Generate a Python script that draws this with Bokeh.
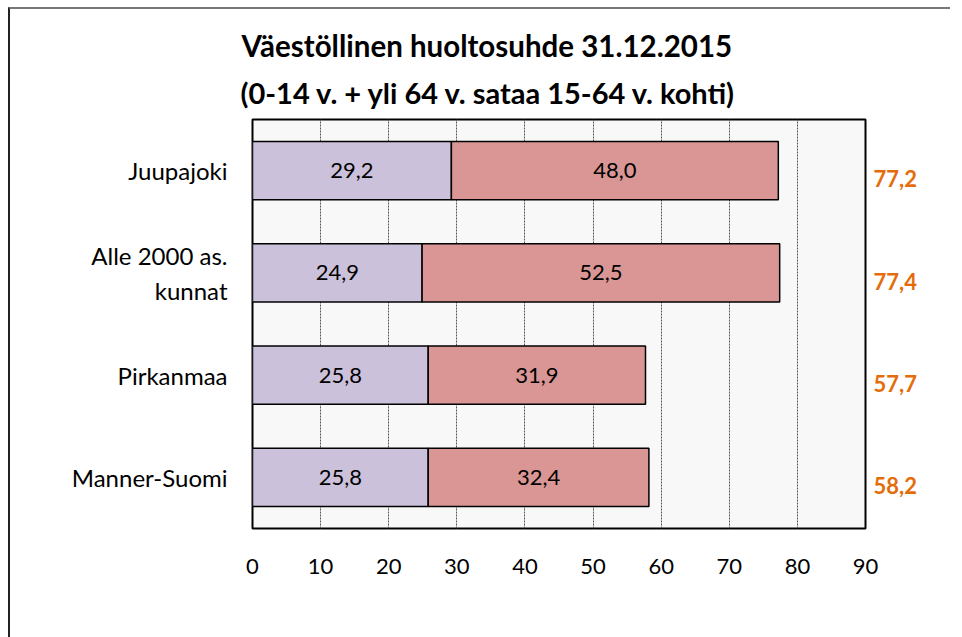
from bokeh.plotting import figure
from bokeh.models import (ColumnDataSource, LabelSet, Legend, LegendItem, Title,
                          FixedTicker, LinearAxis, Range1d)
from bokeh.embed import file_html
from bokeh.resources import INLINE
from bokeh.core.properties import value

# ---- data ----
categories = ["Juupajoki", "Alle 2000 as.\nkunnat", "Pirkanmaa", "Manner-Suomi"]
children = [29.2, 24.9, 25.8, 25.8]
elderly = [48.0, 52.5, 31.9, 32.4]
totals = [77.2, 77.4, 57.7, 58.2]
series_names = ["0-14 v. / (15-64 v./100)", "Yli 64 v. / (15-64 v./100)"]
x_ticks = [0, 10, 20, 30, 40, 50, 60, 70, 80, 90]
title_lines = ["Väestöllinen huoltosuhde 31.12.2015",
               "(0-14 v. + yli 64 v. sataa 15-64 v. kohti)"]


def fi(v):
    return f"{v:.1f}".replace(".", ",")


FONT = "Lato"
C_CHILD = "#ccc1da"
C_OLD = "#d99694"
C_TOTAL = "#e46c0a"
X_MAX = x_ticks[-1]
N = len(categories)
ypos = [N - i - 0.5 for i in range(N)]   # first category on top

src = ColumnDataSource(dict(
    y=ypos,
    children=children,
    elderly=elderly,
    end=[c + e for c, e in zip(children, elderly)],
    mid1=[c / 2 for c in children],
    mid2=[c + e / 2 for c, e in zip(children, elderly)],
    lab1=[fi(v) for v in children],
    lab2=[fi(v) for v in elderly],
))

p = figure(
    frame_width=613, frame_height=409,
    y_range=Range1d(0, N), x_range=Range1d(0, X_MAX),
    output_backend="svg", toolbar_location=None,
    min_border_left=242, min_border_top=110, min_border_right=85, min_border_bottom=95,
)
p.styles = {"border-top": "2px solid #777", "border-left": "2px solid #222",
            "margin-left": "8px", "margin-top": "7px"}
p.background_fill_color = "#f8f8f8"
p.border_fill_color = "white"
p.outline_line_color = "black"
p.outline_line_width = 2

r1 = p.hbar(y="y", left=0, right="children", height=0.57, source=src,
            fill_color=C_CHILD, line_color="black", line_width=1.5)
r2 = p.hbar(y="y", left="children", right="end", height=0.57, source=src,
            fill_color=C_OLD, line_color="black", line_width=1.5)

for xcol, tcol in (("mid1", "lab1"), ("mid2", "lab2")):
    p.add_layout(LabelSet(x=xcol, y="y", text=tcol, source=src,
                          text_align="center", text_baseline="middle",
                          text_font=value(FONT), text_font_size="22px",
                          text_color="black"))

# totals, as labels of an axis on the right (slightly lowered)
p.extra_y_ranges = {"tot": Range1d(start=0.08, end=N + 0.08)}
raxis = LinearAxis(
    y_range_name="tot", ticker=FixedTicker(ticks=ypos),
    major_label_overrides={pos: fi(t) for pos, t in zip(ypos, totals)},
    axis_line_color=None, major_tick_line_color=None, minor_tick_line_color=None,
    major_label_standoff=2, major_label_text_font=FONT,
    major_label_text_font_size="22px", major_label_text_font_style="bold",
    major_label_text_color=C_TOTAL,
)
p.add_layout(raxis, "right")

# grid
p.ygrid.visible = False
p.xgrid.grid_line_color = "#555555"
p.xgrid.grid_line_dash = "2 1"
p.xgrid.grid_line_width = 1

# x axis
p.xaxis.ticker = FixedTicker(ticks=x_ticks)
p.xaxis.axis_line_color = None
p.xaxis.major_tick_line_color = None
p.xaxis.minor_tick_line_color = None
p.xaxis.major_label_standoff = 24
p.xaxis.major_label_text_font = FONT
p.xaxis.major_label_text_font_size = "22px"
p.xaxis.major_label_text_color = "black"

# y axis (categories)
yax = p.left[0]
yax.ticker = FixedTicker(ticks=ypos)
yax.major_label_overrides = {pos: c for pos, c in zip(ypos, categories)}
yax.axis_line_color = None
yax.major_tick_line_color = None
yax.minor_tick_line_color = None
yax.major_label_standoff = 19
yax.major_label_text_font = FONT
yax.major_label_text_font_size = "24px"
yax.major_label_text_color = "black"

# legend
legend = Legend(items=[LegendItem(label=series_names[0], renderers=[r1]),
                       LegendItem(label=series_names[1], renderers=[r2])],
                orientation="horizontal", location="top_left",
                border_line_alpha=0, background_fill_alpha=0,
                label_text_font=FONT, label_text_font_size="24px",
                glyph_width=14, glyph_height=14, spacing=24, padding=2, margin=0,
                label_standoff=6)
p.add_layout(legend, "below")

# titles
p.add_layout(Title(text=title_lines[1], align="left", offset=-12,
                   text_font=FONT, text_font_size="29px", text_font_style="bold",
                   text_color="black", standoff=20), "above")
p.add_layout(Title(text=title_lines[0], align="left", offset=-11,
                   text_font=FONT, text_font_size="29.5px", text_font_style="bold",
                   text_color="black", standoff=0), "above")

open("out.html", "w").write(file_html(p, INLINE))
